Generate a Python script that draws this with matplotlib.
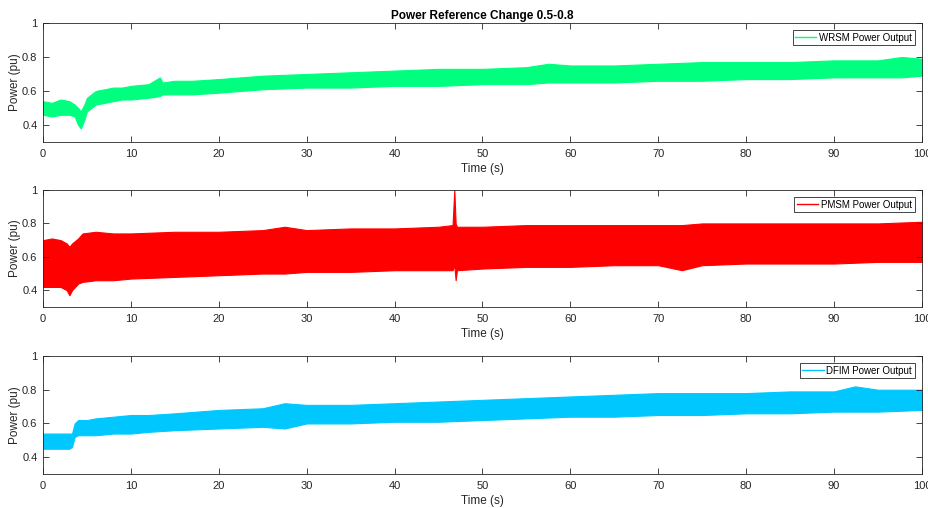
import matplotlib
matplotlib.use("Agg")
import matplotlib.pyplot as plt

plt.rcParams['font.family'] = ['Liberation Sans', 'DejaVu Sans']

# envelopes (upper / lower edge of the noisy band)
wrsm_t = [0, 1, 2, 3, 3.6, 4.0, 4.3, 4.7, 5, 5.5, 6, 7, 8, 9, 10, 12, 13.3, 13.6, 15, 17, 20,
          25, 30, 35, 40, 45, 50, 55, 57.5, 60, 65, 70, 75, 80, 85, 90, 95, 97.7, 100]
wrsm_hi = [0.54, 0.53, 0.55, 0.54, 0.52, 0.50, 0.48, 0.52, 0.56, 0.58, 0.60, 0.61, 0.62, 0.62, 0.63,
           0.64, 0.68, 0.65, 0.66, 0.66, 0.67, 0.69, 0.70, 0.71, 0.72, 0.73, 0.73, 0.74, 0.76, 0.75,
           0.75, 0.76, 0.77, 0.77, 0.77, 0.78, 0.78, 0.80, 0.79]
wrsm_lo = [0.46, 0.45, 0.46, 0.46, 0.45, 0.40, 0.38, 0.43, 0.48, 0.50, 0.52, 0.53, 0.54, 0.55, 0.55,
           0.56, 0.57, 0.58, 0.58, 0.58, 0.59, 0.61, 0.62, 0.62, 0.63, 0.63, 0.64, 0.64, 0.65, 0.65,
           0.65, 0.66, 0.66, 0.67, 0.67, 0.68, 0.68, 0.68, 0.69]

pmsm_t = [0, 1, 2, 2.7, 3.0, 3.3, 4, 4.5, 6, 8, 10, 15, 20, 25, 27.5, 30, 35, 40, 45, 46.6,
          46.8, 46.95, 47.1, 50, 55, 60, 65, 70, 72.7, 75, 80, 85, 90, 95, 100]
pmsm_hi = [0.70, 0.71, 0.70, 0.68, 0.66, 0.68, 0.71, 0.74, 0.75, 0.74, 0.74, 0.75, 0.75, 0.76, 0.78,
           0.76, 0.77, 0.77, 0.78, 0.79, 1.00, 0.80, 0.78, 0.78, 0.79, 0.79, 0.79, 0.79, 0.79, 0.80,
           0.80, 0.80, 0.80, 0.80, 0.81]
pmsm_lo = [0.42, 0.42, 0.42, 0.40, 0.37, 0.40, 0.44, 0.45, 0.46, 0.46, 0.47, 0.48, 0.49, 0.50, 0.50,
           0.51, 0.51, 0.52, 0.52, 0.52, 0.55, 0.46, 0.52, 0.53, 0.54, 0.54, 0.55, 0.55, 0.52, 0.55,
           0.56, 0.56, 0.56, 0.57, 0.57]

dfim_t = [0, 1, 2, 3, 3.3, 3.6, 4, 5, 6, 8, 10, 12, 15, 20, 25, 27.5, 30, 35, 40, 45, 50, 55,
          60, 65, 70, 75, 80, 85, 90, 92.4, 95, 100]
dfim_hi = [0.54, 0.54, 0.54, 0.54, 0.54, 0.60, 0.62, 0.62, 0.63, 0.64, 0.65, 0.65, 0.66, 0.68, 0.69,
           0.72, 0.71, 0.71, 0.72, 0.73, 0.74, 0.75, 0.76, 0.77, 0.78, 0.78, 0.78, 0.79, 0.79, 0.82,
           0.80, 0.80]
dfim_lo = [0.45, 0.45, 0.45, 0.45, 0.46, 0.52, 0.53, 0.53, 0.53, 0.54, 0.54, 0.55, 0.56, 0.57, 0.58,
           0.57, 0.60, 0.60, 0.61, 0.61, 0.62, 0.63, 0.64, 0.64, 0.65, 0.65, 0.66, 0.66, 0.67, 0.67,
           0.67, 0.68]

series = [
    ("WRSM Power Output", wrsm_t, wrsm_hi, wrsm_lo, "#00FF7F"),
    ("PMSM Power Output", pmsm_t, pmsm_hi, pmsm_lo, "#FF0000"),
    ("DFIM Power Output", dfim_t, dfim_hi, dfim_lo, "#00C8FF"),
]

# axes boxes in figure fractions (left, bottom, width, height)
boxes = [(0.0463, 0.7205, 0.946, 0.2343),
         (0.0463, 0.3957, 0.946, 0.2303),
         (0.0463, 0.0669, 0.946, 0.2323)]

dark = "#262626"
fig = plt.figure(figsize=(9.29, 5.08), dpi=100)

for i, (name, t, hi, lo, col) in enumerate(series):
    ax = fig.add_axes(boxes[i])
    ax.fill_between(t, lo, hi, color=col, linewidth=0.8, edgecolor=col)
    ax.plot([], [], color=col, lw=1, label=name)
    ax.set_xlim(0, 100)
    ax.set_ylim(0.3, 1)
    ax.set_xticks(range(0, 101, 10))
    ax.set_yticks([0.4, 0.6, 0.8, 1])
    ax.set_yticklabels(["0.4", "0.6", "0.8", "1"])
    ax.tick_params(direction="in", top=True, right=True, length=4, width=0.6,
                   labelsize=8, colors=dark)
    ax.tick_params(axis="x", pad=5)
    ax.tick_params(axis="y", pad=4)
    for s in ax.spines.values():
        s.set_color(dark)
        s.set_linewidth(0.6)
    ax.set_xlabel("Time (s)", fontsize=8.5, color=dark, labelpad=3)
    ax.set_ylabel("Power (pu)", fontsize=8.5, color=dark, labelpad=1)
    leg = ax.legend(loc="upper right", fontsize=7, frameon=True, fancybox=False,
                    framealpha=1, borderpad=0.25, handlelength=2.2, handletextpad=0.3,
                    borderaxespad=0.75)
    leg.get_frame().set_edgecolor(dark)
    leg.get_frame().set_linewidth(0.6)
    if i == 0:
        ax.set_title("Power Reference Change 0.5-0.8", fontsize=8.5,
                     fontweight="bold", color="black", pad=3)

fig.savefig("out.png", dpi=100)
